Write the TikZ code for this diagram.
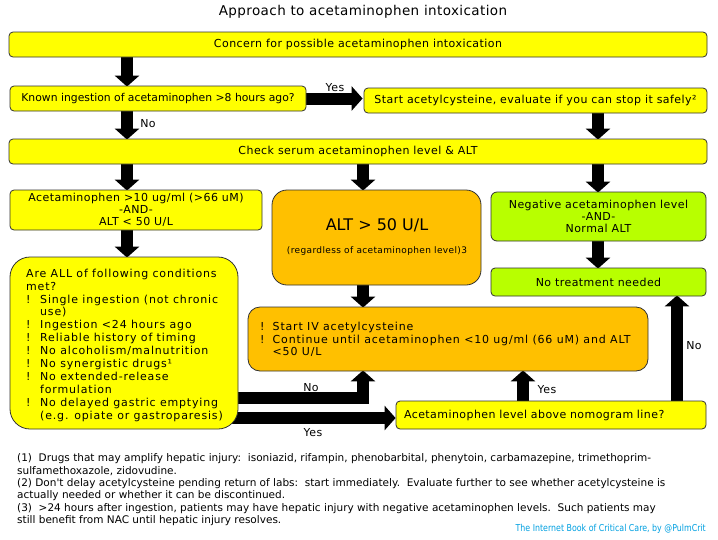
\documentclass[tikz,border=0pt]{standalone}
\usepackage{fontspec}
\setmainfont{DejaVu Sans}
\newfontfamily\boxfont{DejaVu Sans}[LetterSpace=4]
\newfontfamily\widefont{DejaVu Sans}[LetterSpace=7.5]
\newfontfamily\titlefont{DejaVu Sans}[LetterSpace=3]
\newfontfamily\notefont{DejaVu Sans}
\newfontfamily\credfont{DejaVu Sans}[FakeStretch=0.83]
\usetikzlibrary{arrows.meta}
\definecolor{ybox}{RGB}{255,255,0}
\definecolor{obox}{RGB}{255,192,0}
\definecolor{gbox}{RGB}{184,255,0}
\definecolor{cred}{RGB}{0,160,225}
\definecolor{edge}{RGB}{50,50,50}
\pgfdeclarelayer{bg}
\pgfdeclarelayer{arr}
\pgfsetlayers{bg,arr,main}
\tikzset{
 box/.style={draw=edge, line width=0.8pt, rounded corners=4pt, inner sep=0pt, font=\boxfont\fontsize{11}{12}\selectfont, align=center},
 bigarrow/.style={line width=12pt, -{Triangle[width=24pt,length=11pt]}, line join=miter},
 lbl/.style={font=\boxfont\fontsize{11}{12}\selectfont, inner sep=0pt},
 note/.style={anchor=west, inner sep=0pt, font=\notefont\fontsize{10.5}{12}\selectfont},
 btext/.style={anchor=north west, inner sep=0pt},
}
\begin{document}
\begin{tikzpicture}[x=1pt,y=-1pt]
\useasboundingbox (0,0) rectangle (718,539);
\begin{pgfonlayer}{bg}
\fill[white] (0,0) rectangle (718,539);
\end{pgfonlayer}
\node[font=\titlefont\fontsize{13.5}{15}\selectfont] (title) at (363,11.5) {Approach to acetaminophen intoxication};
\node[box, fill=ybox, minimum width=698pt, minimum height=25pt] (b1) at (358,44.5) {Concern for possible acetaminophen intoxication};
\node[box, fill=ybox, minimum width=296pt, minimum height=25pt, font=\notefont\fontsize{10.8}{12}\selectfont] (b2) at (158,98.5) {Known ingestion of acetaminophen >8 hours ago?};
\node[box, fill=ybox, minimum width=343pt, minimum height=25pt] (b3) at (535.5,100.5) {Start acetylcysteine, evaluate if you can stop it safely²};
\node[box, fill=ybox, minimum width=698pt, minimum height=25pt] (b4) at (358,151.5) {Check serum acetaminophen level \& ALT};
\node[box, fill=ybox, minimum width=252pt, minimum height=40pt] (b5) at (136,210) {Acetaminophen >10 ug/ml (>66 uM)\\-AND-\\ALT < 50 U/L};
\node[box, fill=obox, rounded corners=15pt, minimum width=209pt, minimum height=95pt] (b6) at (376.5,237.5) {};
\node[font=\fontsize{16}{18}\selectfont, inner sep=0pt] (b6a) at (377,225) {ALT > 50 U/L};
\node[font=\boxfont\fontsize{9}{10}\selectfont, inner sep=0pt] (b6b) at (377,251) {(regardless of acetaminophen level)3};
\node[box, fill=gbox, rounded corners=6pt, minimum width=215pt, minimum height=49pt] (b7) at (598.5,216.5) {Negative acetaminophen level\\-AND-\\Normal ALT};
\node[box, fill=gbox, minimum width=215pt, minimum height=28pt] (b8) at (598.5,282) {No treatment needed};
\node[box, fill=ybox, rounded corners=20pt, minimum width=228pt, minimum height=172pt] (b9) at (124,343) {};
\node[btext, font=\widefont\fontsize{11}{12.9}\selectfont] (b9t) at (26,268) {\begin{tabular}{@{}p{14pt}@{}l@{}}
\multicolumn{2}{@{}l@{}}{Are ALL of following conditions}\\
\multicolumn{2}{@{}l@{}}{met?}\\
! & Single ingestion (not chronic\\
 & use)\\
! & Ingestion <24 hours ago\\
! & Reliable history of timing\\
! & No alcoholism/malnutrition\\
! & No synergistic drugs¹\\
! & No extended-release\\
 & formulation\\
! & No delayed gastric emptying\\
 & (e.g. opiate or gastroparesis)
\end{tabular}};
\node[box, fill=obox, rounded corners=12pt, minimum width=400pt, minimum height=64pt] (b10) at (448,339) {};
\node[btext, font=\widefont\fontsize{11}{12.5}\selectfont] (b10t) at (260,322) {\begin{tabular}{@{}p{12.5pt}@{}l@{}}
! & Start IV acetylcysteine\\
! & Continue until acetaminophen <10 ug/ml (66 uM) and ALT\\
 & <50 U/L
\end{tabular}};
\node[box, fill=ybox, minimum width=310pt, minimum height=28pt, text width=294pt, align=left] (b11) at (551,415) {Acetaminophen level above nomogram line?};
% columns for arrows
\coordinate (colL) at (127,0);
\coordinate (colM) at (363,0);
\coordinate (colR) at (598,0);
\coordinate (colY) at (523,0);
\coordinate (colN) at (677,0);
\coordinate (rowNo) at (0,398);
\coordinate (rowYes) at (0,418);
\begin{pgfonlayer}{arr}
\draw[bigarrow] (b1.south -| colL) -- ([yshift=-1pt]b2.north -| colL);
\draw[bigarrow] (b2.east) -- ([xshift=-1pt]b2.east -| b3.west);
\draw[bigarrow] (b2.south -| colL) -- ([yshift=-1pt]b4.north -| colL);
\draw[bigarrow] (b3.south -| colR) -- ([yshift=-1pt]b4.north -| colR);
\draw[bigarrow] (b4.south -| colL) -- ([yshift=-1pt]b5.north -| colL);
\draw[bigarrow] (b4.south -| colM) -- ([yshift=-1pt]b6.north -| colM);
\draw[bigarrow] (b4.south -| colR) -- ([yshift=-1pt]b7.north -| colR);
\draw[bigarrow] (b7.south -| colR) -- ([yshift=-1pt]b8.north -| colR);
\draw[bigarrow] (b5.south -| colL) -- ([yshift=-1pt]b9.north -| colL);
\draw[bigarrow] (b6.south -| colM) -- ([yshift=-1pt]b10.north -| colM);
\draw[bigarrow] ([xshift=-4pt]b9.east |- rowNo) -| ([yshift=1pt]b10.south -| colM);
\draw[bigarrow] ([xshift=-6pt]b9.east |- rowYes) -- (b11.west |- rowYes);
\draw[bigarrow] (b11.north -| colY) -- ([yshift=1pt]b10.south -| colY);
\draw[bigarrow] (b11.north -| colN) -- ([yshift=1pt]b8.south -| colN);
\end{pgfonlayer}
\node[lbl] (lyes1) at (335,88) {Yes};
\node[lbl] (lno1) at (148,124) {No};
\node[lbl] (lno2) at (311,388) {No};
\node[lbl] (lyes2) at (313,433) {Yes};
\node[lbl] (lyes3) at (547,390) {Yes};
\node[lbl] (lno3) at (694,346) {No};
\node[note] (n1) at (17,459) {(1)\ \ Drugs that may amplify hepatic injury:\ \ isoniazid, rifampin, phenobarbital, phenytoin, carbamazepine, trimethoprim-};
\node[note] (n2) at (17,471) {sulfamethoxazole, zidovudine.};
\node[note] (n3) at (17,484) {(2) Don't delay acetylcysteine pending return of labs:\ \ start immediately.\ \ Evaluate further to see whether acetylcysteine is};
\node[note] (n4) at (17,496) {actually needed or whether it can be discontinued.};
\node[note] (n5) at (17,509) {(3)\ \ >24 hours after ingestion, patients may have hepatic injury with negative acetaminophen levels.\ \ Such patients may};
\node[note] (n6) at (17,521) {still benefit from NAC until hepatic injury resolves.};
\node[anchor=east, inner sep=0pt, text=cred, font=\credfont\fontsize{9.5}{11}\selectfont] (cr) at (706,529) {The Internet Book of Critical Care, by @PulmCrit};
\end{tikzpicture}
\end{document}
